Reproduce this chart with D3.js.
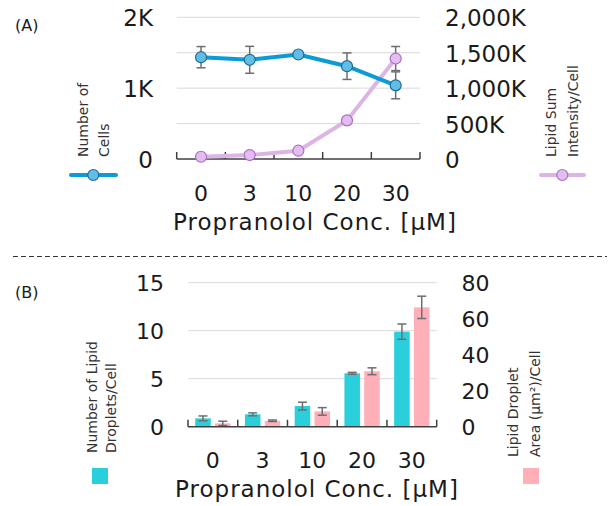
<!DOCTYPE html>
<html><head><meta charset="utf-8">
<script src="https://cdn.jsdelivr.net/npm/d3@7"></script>
<style>
html,body{margin:0;padding:0;background:#fff;}
text{font-family:"DejaVu Sans",Verdana,sans-serif;fill:#1a1a1a;}
</style></head>
<body><svg id="c" width="614" height="506"></svg>
<script>
// ---- data ----
const categories = ["0","3","10","20","30"];
// Panel A
const cellCount = [1437, 1400, 1475, 1310, 1040];
const cellCountErr = [150, 190, 20, 187, 190];
const lipidSumK = [32, 56, 117, 545, 1418];
const lipidSumErrK = [10, 12, 20, 30, 170];
const leftTicksA = [0, 1000, 2000];
const leftTickLabelsA = ["0", "1K", "2K"];
const rightTicksA = [0, 500, 1000, 1500, 2000];
const rightTickLabelsA = ["0", "500K", "1,000K", "1,500K", "2,000K"];
// Panel B
const dropletCount = [0.87, 1.29, 2.15, 5.56, 9.9];
const dropletCountErr = [0.25, 0.15, 0.4, 0.1, 0.8];
const dropletArea = [1.85, 3.3, 8.5, 30.8, 66.3];
const dropletAreaErr = [1.2, 0.4, 2.1, 1.9, 6.2];
const leftTicksB = [0, 5, 10, 15];
const rightTicksB = [0, 20, 40, 60, 80];
const xTitle = "Propranolol Conc. [μM]";

const svg = d3.select("#c");
const gridCol = "#d9d9d9", axisCol = "#404040", errCol = "#6e6e6e";
const blue = "#0b9bd6", blueFill = "#62bde6", blueStroke = "#1d6d95";
const pink = "#dcb5e4", pinkFill = "#e2bdef", pinkStroke = "#b06cc6";
const cyanBar = "#29cfdb", pinkBar = "#ffafb7";

// ================= Panel A =================
const xA = d3.scaleBand().domain(categories).range([176.7, 420]);
const yA = d3.scaleLinear().domain([0, 2000]).range([159, 17.3]);
const yA2 = d3.scaleLinear().domain([0, 2000]).range([159, 17.3]);
const gA = svg.append("g");
gA.selectAll("line.grid").data([500,1000,1500,2000]).join("line")
  .attr("x1", xA.range()[0]).attr("x2", xA.range()[1])
  .attr("y1", d=>yA(d)).attr("y2", d=>yA(d))
  .attr("stroke", gridCol).attr("stroke-width", 1);
// baseline + ticks
gA.append("line").attr("x1", xA.range()[0]).attr("x2", xA.range()[1])
  .attr("y1", yA(0)).attr("y2", yA(0)).attr("stroke", axisCol).attr("stroke-width", 1.5);
const bA = categories.map(c=>xA(c)).concat([xA.range()[1]]);
gA.selectAll("line.tk").data(bA).join("line")
  .attr("x1", d=>d).attr("x2", d=>d).attr("y1", yA(0)).attr("y2", yA(0)-7)
  .attr("stroke", axisCol).attr("stroke-width", 1.5);
// y labels
gA.selectAll("text.yl").data(leftTicksA).join("text")
  .attr("x", 153).attr("y", d=>yA(d)+9).attr("text-anchor","end")
  .attr("font-size", 23).text((d,i)=>leftTickLabelsA[i]);
gA.selectAll("text.yr").data(rightTicksA).join("text")
  .attr("x", 445).attr("y", d=>yA2(d)+9).attr("text-anchor","start")
  .attr("font-size", 23).text((d,i)=>rightTickLabelsA[i]);
// x labels
gA.selectAll("text.xl").data(categories).join("text")
  .attr("x", d=>xA(d)+xA.bandwidth()/2).attr("y", 201).attr("text-anchor","middle")
  .attr("font-size", 22).text(d=>d);
gA.append("text").attr("x", 315).attr("y", 230).attr("text-anchor","middle")
  .attr("font-size", 23).attr("letter-spacing", 1).text(xTitle);

function errBars(g, xs, vals, errs, ys, cw){
  g.selectAll(null).data(vals).join("g").each(function(v,i){
    const x = xs(i), gg = d3.select(this);
    const y1 = ys(v+errs[i]), y0 = ys(v-errs[i]);
    gg.append("line").attr("x1",x).attr("x2",x).attr("y1",y1).attr("y2",y0);
    gg.append("line").attr("x1",x-cw).attr("x2",x+cw).attr("y1",y1).attr("y2",y1);
    gg.append("line").attr("x1",x-cw).attr("x2",x+cw).attr("y1",y0).attr("y2",y0);
    gg.selectAll("line").attr("stroke", errCol).attr("stroke-width", 1.5);
  });
}
const cx = i => xA(categories[i]) + xA.bandwidth()/2;
// pink series
errBars(gA, cx, lipidSumK, lipidSumErrK, yA2, 4.5);
gA.append("path").datum(lipidSumK)
  .attr("d", d3.line().x((d,i)=>cx(i)).y(d=>yA2(d)))
  .attr("fill","none").attr("stroke", pink).attr("stroke-width", 4);
gA.selectAll("circle.p").data(lipidSumK).join("circle")
  .attr("cx",(d,i)=>cx(i)).attr("cy", d=>yA2(d)).attr("r", 5.5)
  .attr("fill", pinkFill).attr("stroke", pinkStroke).attr("stroke-width", 1.2);
// blue series
errBars(gA, cx, cellCount, cellCountErr, yA, 4.5);
gA.append("path").datum(cellCount)
  .attr("d", d3.line().x((d,i)=>cx(i)).y(d=>yA(d)))
  .attr("fill","none").attr("stroke", blue).attr("stroke-width", 4);
gA.selectAll("circle.b").data(cellCount).join("circle")
  .attr("cx",(d,i)=>cx(i)).attr("cy", d=>yA(d)).attr("r", 5.5)
  .attr("fill", blueFill).attr("stroke", blueStroke).attr("stroke-width", 1.2);

// legends A
function vtext(g, x, yEnd, txt, size){
  g.append("text").attr("transform", `translate(${x},${yEnd}) rotate(-90)`)
   .attr("font-size", size).attr("fill","#333").style("fill","#333").text(txt);
}
vtext(svg, 88, 157, "Number of", 14);
vtext(svg, 108.5, 157, "Cells", 14);
svg.append("line").attr("x1",71).attr("x2",116).attr("y1",175).attr("y2",175)
  .attr("stroke", blue).attr("stroke-width",4).attr("stroke-linecap","round");
svg.append("circle").attr("cx",93.3).attr("cy",175).attr("r",5.5)
  .attr("fill", blueFill).attr("stroke", blueStroke).attr("stroke-width",1.2);
vtext(svg, 555.5, 157, "Lipid Sum", 14);
vtext(svg, 578, 157, "Intensity/Cell", 14);
svg.append("line").attr("x1",541).attr("x2",584).attr("y1",175).attr("y2",175)
  .attr("stroke", pink).attr("stroke-width",4).attr("stroke-linecap","round");
svg.append("circle").attr("cx",562.3).attr("cy",175).attr("r",5.5)
  .attr("fill", pinkFill).attr("stroke", pinkStroke).attr("stroke-width",1.2);

svg.append("text").attr("x",15).attr("y",31).attr("font-size",16).text("(A)");
svg.append("line").attr("x1",13).attr("x2",607).attr("y1",256.5).attr("y2",256.5)
  .attr("stroke","#333").attr("stroke-width",1).attr("stroke-dasharray","5,3");
svg.append("text").attr("x",15).attr("y",298).attr("font-size",16).text("(B)");

// ================= Panel B =================
const xB = d3.scaleBand().domain(categories).range([188, 436.7]);
const sub = d3.scaleBand().domain(["n","a"]).range([0, xB.bandwidth()]).paddingInner(0.217).paddingOuter(0.364);
const yB = d3.scaleLinear().domain([0, 15]).range([426.7, 282.7]);
const yB2 = d3.scaleLinear().domain([0, 80]).range([426.7, 282.7]);
const gB = svg.append("g");
gB.selectAll("line.grid").data([5,10,15]).join("line")
  .attr("x1", xB.range()[0]).attr("x2", xB.range()[1])
  .attr("y1", d=>yB(d)).attr("y2", d=>yB(d))
  .attr("stroke", gridCol).attr("stroke-width", 1);
gB.selectAll("rect.n").data(dropletCount).join("rect")
  .attr("x",(d,i)=>xB(categories[i])+sub("n")).attr("width", sub.bandwidth())
  .attr("y", d=>yB(d)).attr("height", d=>yB(0)-yB(d)).attr("fill", cyanBar);
gB.selectAll("rect.a").data(dropletArea).join("rect")
  .attr("x",(d,i)=>xB(categories[i])+sub("a")).attr("width", sub.bandwidth())
  .attr("y", d=>yB2(d)).attr("height", d=>yB2(0)-yB2(d)).attr("fill", pinkBar);
errBars(gB, i=>xB(categories[i])+sub("n")+sub.bandwidth()/2, dropletCount, dropletCountErr, yB, 4.5);
errBars(gB, i=>xB(categories[i])+sub("a")+sub.bandwidth()/2, dropletArea, dropletAreaErr, yB2, 4.5);
gB.append("line").attr("x1", xB.range()[0]).attr("x2", xB.range()[1])
  .attr("y1", yB(0)).attr("y2", yB(0)).attr("stroke", axisCol).attr("stroke-width", 1.5);
const bB = categories.map(c=>xB(c)).concat([xB.range()[1]]);
gB.selectAll("line.tk").data(bB).join("line")
  .attr("x1", d=>d).attr("x2", d=>d).attr("y1", yB(0)).attr("y2", yB(0)-7)
  .attr("stroke", axisCol).attr("stroke-width", 1.5);
gB.selectAll("text.yl").data(leftTicksB).join("text")
  .attr("x", 164).attr("y", d=>yB(d)+8.5).attr("text-anchor","end")
  .attr("font-size", 22).text(d=>d);
gB.selectAll("text.yr").data(rightTicksB).join("text")
  .attr("x", 461.5).attr("y", d=>yB2(d)+8.5).attr("text-anchor","start")
  .attr("font-size", 22).text(d=>d);
gB.selectAll("text.xl").data(categories).join("text")
  .attr("x", d=>xB(d)+xB.bandwidth()/2).attr("y", 468).attr("text-anchor","middle")
  .attr("font-size", 22).text(d=>d);
gB.append("text").attr("x", 317).attr("y", 497).attr("text-anchor","middle")
  .attr("font-size", 23).attr("letter-spacing", 1).text(xTitle);

vtext(svg, 97, 453, "Number of Lipid", 14);
vtext(svg, 116, 453, "Droplets/Cell", 14);
svg.append("rect").attr("x",92).attr("y",468).attr("width",16).attr("height",16).attr("fill",cyanBar);
vtext(svg, 518, 457, "Lipid Droplet", 14);
vtext(svg, 540, 457, "Area (μm²)/Cell", 14);
svg.append("rect").attr("x",523).attr("y",468).attr("width",16).attr("height",16).attr("fill",pinkBar);
</script></body></html>
